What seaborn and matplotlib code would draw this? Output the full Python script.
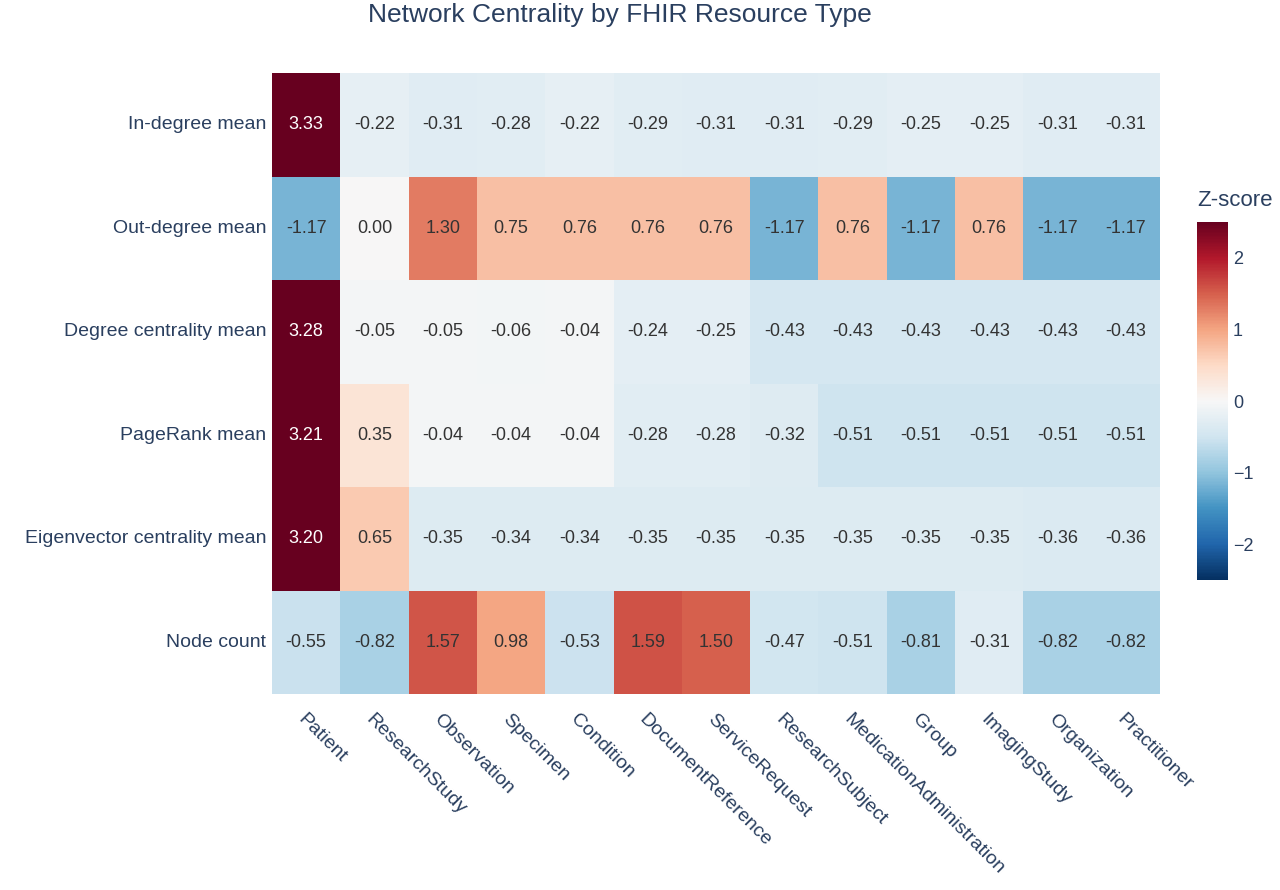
import matplotlib.pyplot as plt
import numpy as np
import pandas as pd
import seaborn as sns

sns.set_theme(style="white")
plt.rcParams['font.family'] = ['Liberation Sans', 'DejaVu Sans']

# 数据
resource_types = ["Patient", "ResearchStudy", "Observation", "Specimen", "Condition",
                  "DocumentReference", "ServiceRequest", "ResearchSubject",
                  "MedicationAdministration", "Group", "ImagingStudy",
                  "Organization", "Practitioner"]
metrics = ["In-degree mean", "Out-degree mean", "Degree centrality mean",
           "PageRank mean", "Eigenvector centrality mean", "Node count"]

in_degree = [3.33, -0.22, -0.31, -0.28, -0.22, -0.29, -0.31, -0.31, -0.29, -0.25, -0.25, -0.31, -0.31]
out_degree = [-1.17, 0.00, 1.30, 0.75, 0.76, 0.76, 0.76, -1.17, 0.76, -1.17, 0.76, -1.17, -1.17]
degree_cent = [3.28, -0.05, -0.05, -0.06, -0.04, -0.24, -0.25, -0.43, -0.43, -0.43, -0.43, -0.43, -0.43]
pagerank = [3.21, 0.35, -0.04, -0.04, -0.04, -0.28, -0.28, -0.32, -0.51, -0.51, -0.51, -0.51, -0.51]
eigen = [3.20, 0.65, -0.35, -0.34, -0.34, -0.35, -0.35, -0.35, -0.35, -0.35, -0.35, -0.36, -0.36]
node_count = [-0.55, -0.82, 1.57, 0.98, -0.53, 1.59, 1.50, -0.47, -0.51, -0.81, -0.31, -0.82, -0.82]

df = pd.DataFrame([in_degree, out_degree, degree_cent, pagerank, eigen, node_count],
                  index=metrics, columns=resource_types)

text_color = "#2a3f5f"

fig = plt.figure(figsize=(12.8, 8.9), dpi=100)
ax = fig.add_axes([272 / 1280, 1 - 694 / 890, 888 / 1280, 621 / 890])
cax = fig.add_axes([1197 / 1280, 1 - 580 / 890, 31 / 1280, 358 / 890])

sns.heatmap(df, ax=ax, cbar_ax=cax, cmap="RdBu_r", vmin=-2.5, vmax=2.5,
            annot=False, linewidths=0)

# 数值标注
for i in range(df.shape[0]):
    for j in range(df.shape[1]):
        v = df.iloc[i, j]
        ax.text(j + 0.5, i + 0.5, f"{v:.2f}", ha="center", va="center",
                fontsize=13, color="white" if abs(v) > 2 else "#333333")

ax.set_xticks(np.arange(len(resource_types)) + 0.5)
ax.set_xticklabels(resource_types, rotation=-45, ha="left", rotation_mode="anchor",
                   fontsize=14, color=text_color)
ax.set_yticklabels(metrics, rotation=0, fontsize=14, color=text_color)
ax.tick_params(axis="x", length=0, pad=12)
ax.tick_params(axis="y", length=0, pad=4)
ax.set_xlabel("")
ax.set_ylabel("")

cax.set_yticks([-2, -1, 0, 1, 2])
cax.set_yticklabels(["\u22122", "\u22121", "0", "1", "2"])
cax.tick_params(labelsize=13, colors=text_color, length=0)
for s in cax.spines.values():
    s.set_visible(False)
fig.text(1197 / 1280, 1 - 200 / 890, "Z-score", fontsize=16, color=text_color,
         ha="left", va="center")

fig.text(620 / 1280, 1 - 15 / 890, "Network Centrality by FHIR Resource Type",
         fontsize=19, color=text_color, ha="center", va="center")

plt.savefig("out.png", dpi=100)
